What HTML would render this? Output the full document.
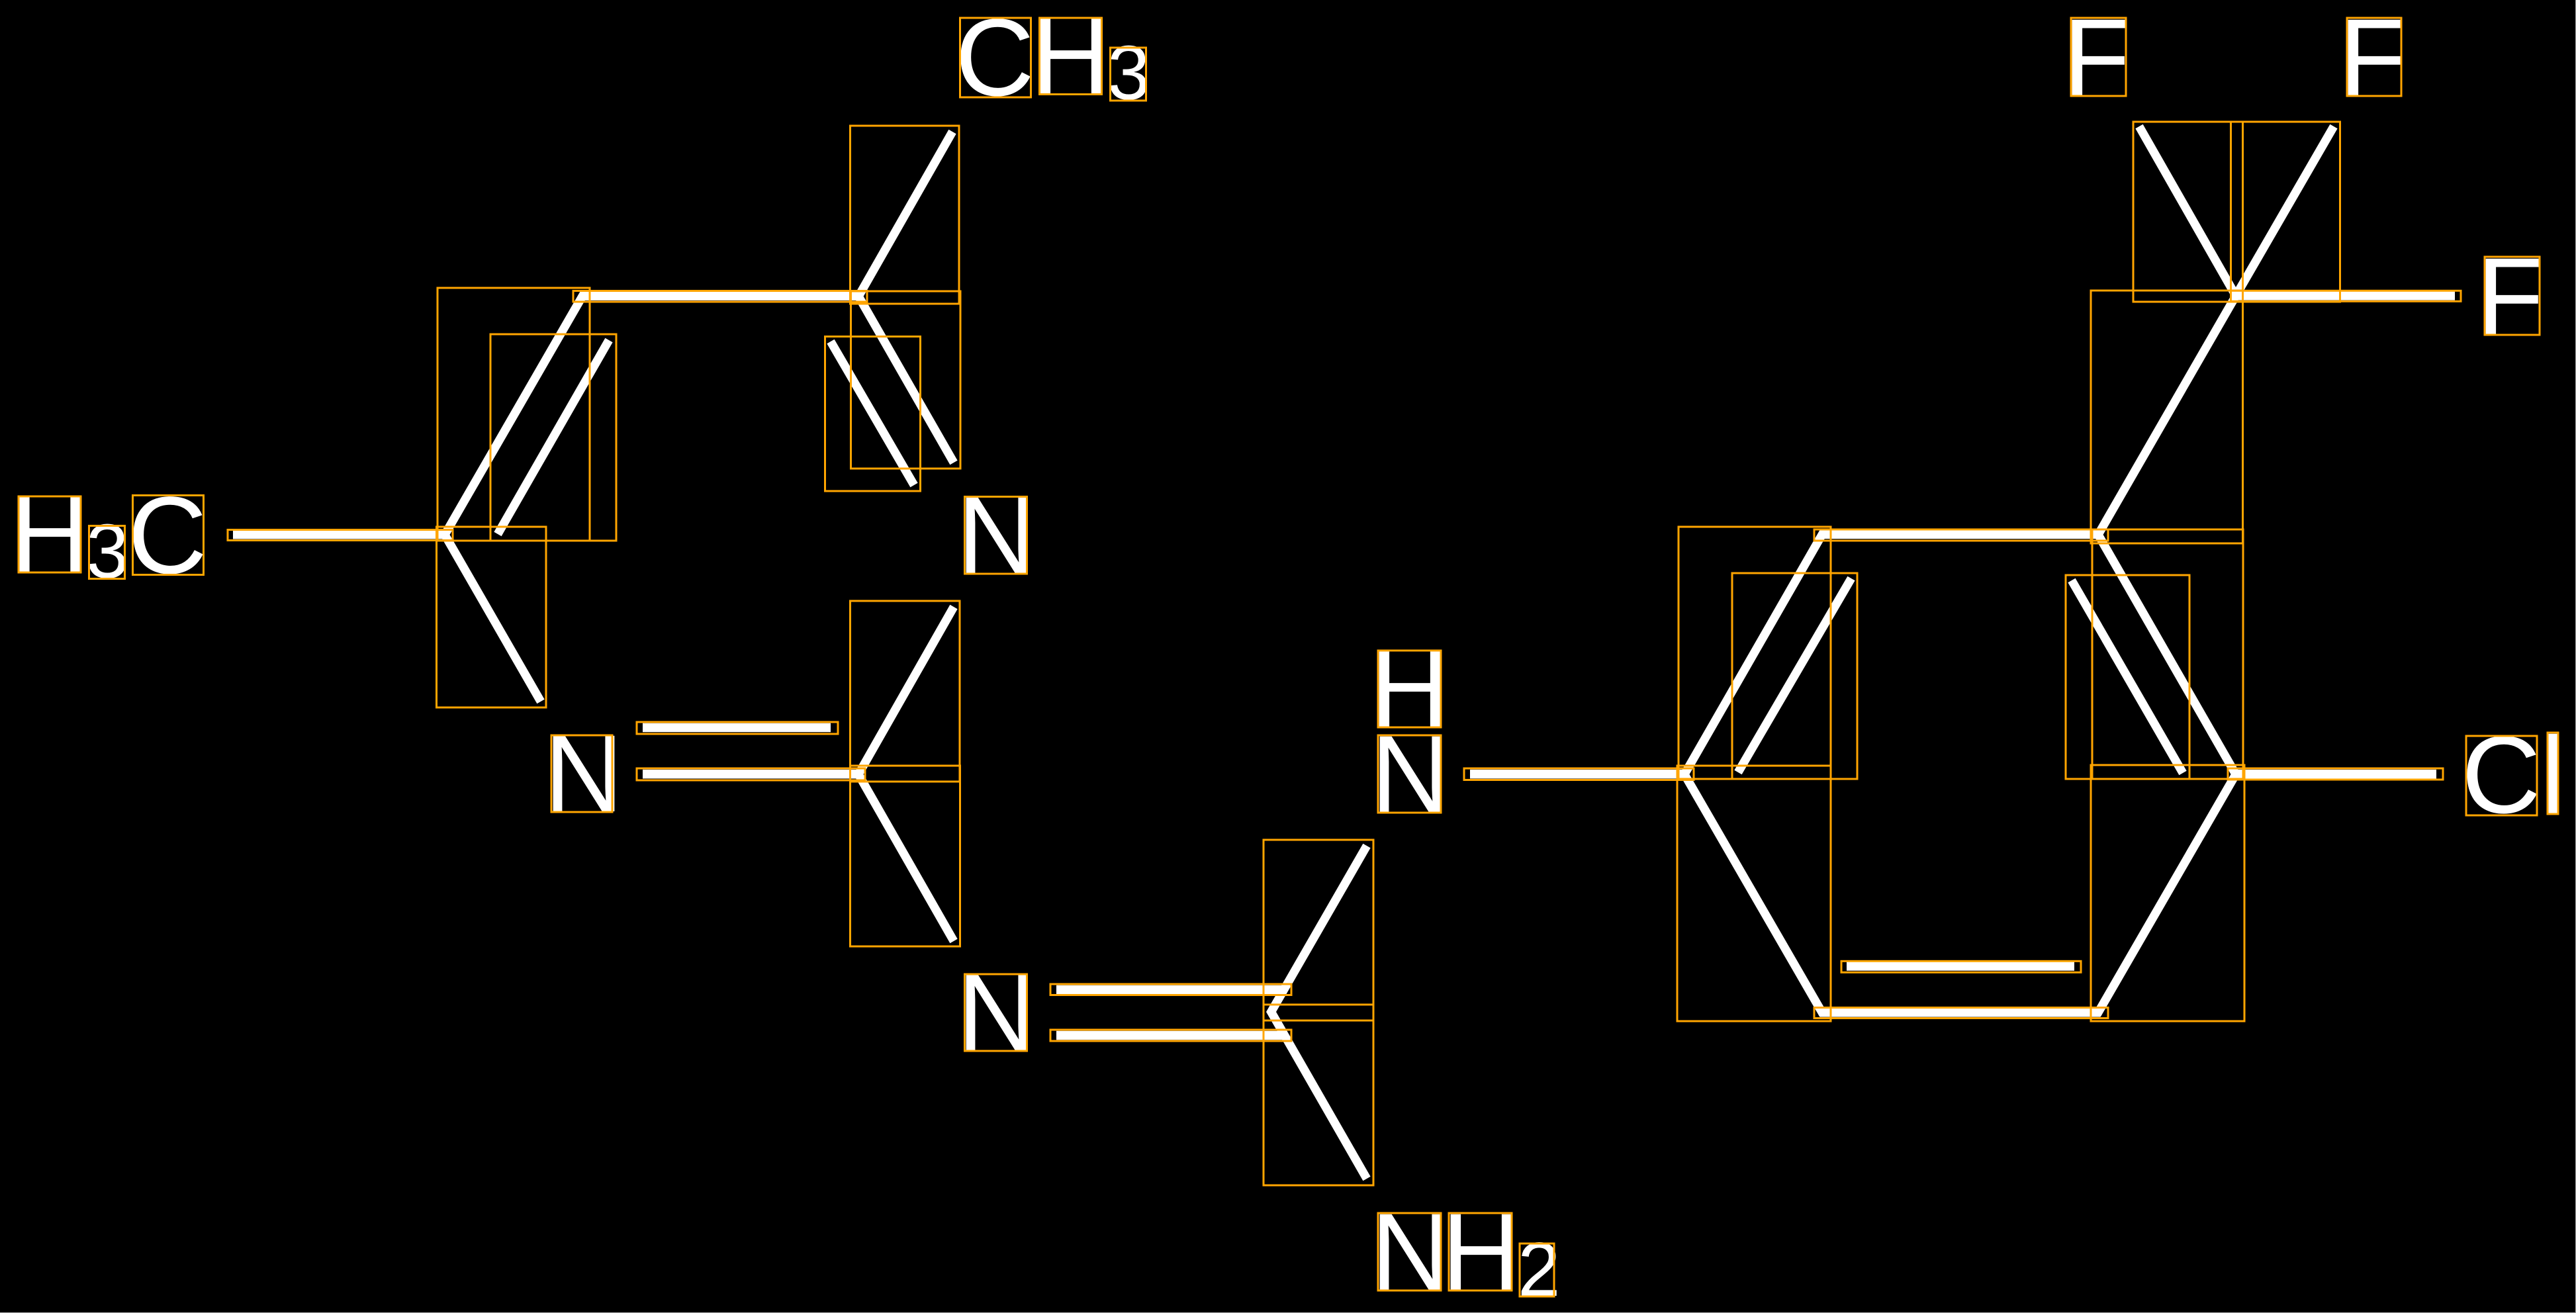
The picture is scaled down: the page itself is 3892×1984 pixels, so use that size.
<!DOCTYPE html>
<html>
<head>
<meta charset="utf-8">
<style>
html,body{margin:0;padding:0;background:#000;width:3892px;height:1984px;overflow:hidden}
svg{display:block}
text{font-family:"Liberation Sans",sans-serif;fill:#fff}
.b{font-size:166px}
.s{font-size:116px}
.w{fill:none;stroke:#fff;stroke-width:13;stroke-linejoin:miter;stroke-miterlimit:10;stroke-linecap:butt}
.h{stroke-width:13.6}
.o rect{fill:none;stroke:#ffa500;stroke-width:3}
</style>
</head>
<body>
<svg width="3892" height="1984" viewBox="0 0 3892 1984" xmlns="http://www.w3.org/2000/svg">
<rect width="3892" height="1984" fill="#000"/>
<rect x="0" y="1983" width="3892" height="1" fill="#aaa"/>
<rect x="3891" y="0" width="1" height="1984" fill="#aaa"/>

<text class="b" x="15.5" y="864">H</text>
<text class="s" x="130" y="873">3</text>
<text class="b" x="193" y="866">C</text>
<text class="b" x="1443" y="144">C</text>
<text class="b" x="1558" y="142">H</text>
<text class="s" x="1673" y="150">3</text>
<text class="b" x="1446" y="866">N</text>
<text class="b" x="822" y="1226">N</text>
<text class="b" x="1446" y="1587">N</text>
<text class="b" x="2070" y="1098">H</text>
<text class="b" x="2071" y="1227">N</text>
<text class="b" x="2071" y="1949">N</text>
<text class="b" x="2178" y="1949">H</text>
<text class="s" x="2293" y="1958">2</text>
<text class="b" x="3117" y="144">F</text>
<text class="b" x="3534" y="144">F</text>
<text class="b" x="3742" y="505">F</text>
<text class="b" x="3719" y="1228">C</text>
<text class="b" x="3839" y="1229">l</text>

<g class="w">
<polyline points="817,1060 672,808 880,447.5 1297,447.5 1441,699"/>
<line x1="1297" y1="448" x2="1439" y2="199"/>
<line x1="752" y1="807" x2="920" y2="514"/>
<line x1="1255" y1="516" x2="1381" y2="733"/>
<polyline points="1441,917 1297,1170 1441,1422"/>
<polyline points="2065,1278 1920.5,1529 2065,1781"/>
<polygon points="2545,1170 2753,807.7 3170,807.7 3378,1170 3170,1530 2753,1530"/>
<line x1="3170" y1="808" x2="3378" y2="447"/>
<polyline points="3232,191 3378,447 3526,191"/>
<line x1="2626" y1="1167" x2="2797" y2="874"/>
<line x1="3130" y1="877" x2="3298" y2="1168"/>
</g>
<g class="w h">
<line x1="352" y1="807.7" x2="678" y2="807.7"/>
<line x1="971" y1="1099.5" x2="1255" y2="1099.5"/>
<line x1="971" y1="1169.7" x2="1300" y2="1169.7"/>
<line x1="1596" y1="1495.5" x2="1942" y2="1495.5"/>
<line x1="1596" y1="1564.5" x2="1942" y2="1564.5"/>
<line x1="2221" y1="1169.7" x2="2551" y2="1169.7"/>
<line x1="3370" y1="446.8" x2="3709" y2="446.8"/>
<line x1="3372" y1="1169.7" x2="3681" y2="1169.7"/>
<line x1="2790" y1="1460" x2="3134" y2="1460"/>
<line x1="2750" y1="1529.8" x2="3173" y2="1529.8"/>
</g>

<g class="o">
<rect x="28" y="750" width="94" height="115"/>
<rect x="134.5" y="794.5" width="54" height="80"/>
<rect x="200.5" y="748.5" width="107" height="120"/>
<rect x="344" y="800.5" width="340" height="16"/>
<rect x="661" y="435" width="230" height="382"/>
<rect x="741" y="505" width="190" height="312"/>
<rect x="659.5" y="796" width="165.5" height="273"/>
<rect x="866" y="439.5" width="444" height="16.5"/>
<rect x="1450.5" y="27" width="107" height="120"/>
<rect x="1570.5" y="27" width="94" height="115.5"/>
<rect x="1677.5" y="72" width="54" height="80"/>
<rect x="1284.5" y="190" width="164.5" height="269"/>
<rect x="1285.5" y="440" width="165.5" height="268"/>
<rect x="1246.5" y="508.5" width="144" height="233.5"/>
<rect x="1457.5" y="750.5" width="94" height="116.5"/>
<rect x="833" y="1111" width="92" height="116"/>
<rect x="962" y="1091" width="304" height="18"/>
<rect x="962" y="1161" width="345" height="18"/>
<rect x="1284.5" y="908" width="165.5" height="273"/>
<rect x="1284.5" y="1157" width="166" height="273"/>
<rect x="1457.5" y="1472" width="94" height="116"/>
<rect x="1587" y="1487" width="364" height="16.5"/>
<rect x="1587" y="1556" width="364" height="17"/>
<rect x="1909" y="1269" width="166" height="273"/>
<rect x="1909" y="1518" width="166" height="273"/>
<rect x="2082" y="983" width="95" height="116"/>
<rect x="2082" y="1111" width="95" height="117"/>
<rect x="2212" y="1161" width="347" height="17.5"/>
<rect x="2082" y="1833" width="95" height="117"/>
<rect x="2189" y="1833" width="95" height="117"/>
<rect x="2296" y="1879" width="52" height="80"/>
<rect x="2536" y="796" width="230" height="381"/>
<rect x="2617" y="866" width="189" height="311"/>
<rect x="2741" y="800" width="444" height="17"/>
<rect x="3121" y="869" width="187" height="308"/>
<rect x="3161" y="800" width="228" height="377"/>
<rect x="3159" y="439" width="229.5" height="382"/>
<rect x="3129" y="27" width="83" height="118"/>
<rect x="3546" y="27" width="82" height="118"/>
<rect x="3223" y="184" width="165.5" height="272"/>
<rect x="3370.5" y="184" width="165" height="272"/>
<rect x="3370.5" y="439.3" width="347.5" height="16"/>
<rect x="3754" y="388" width="83" height="118"/>
<rect x="2534" y="1157" width="232" height="386"/>
<rect x="3159" y="1156" width="232" height="387"/>
<rect x="2782" y="1452.3" width="362" height="17"/>
<rect x="2741" y="1522.5" width="444" height="16"/>
<rect x="3366" y="1161" width="325" height="17"/>
<rect x="3726" y="1112" width="107" height="120"/>
<rect x="3849" y="1107" width="16" height="123"/>
</g>
</svg>
</body>
</html>
